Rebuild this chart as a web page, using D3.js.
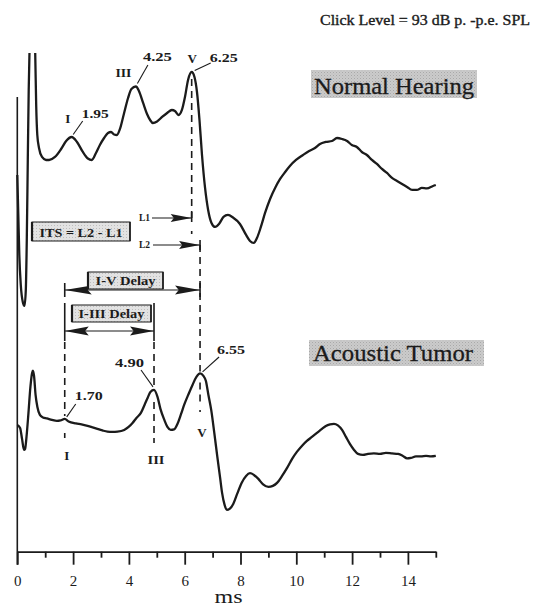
<!DOCTYPE html>
<html><head><meta charset="utf-8">
<script src="https://cdn.jsdelivr.net/npm/d3@7"></script>
<style>
html,body{margin:0;padding:0;background:#fff;}
svg{display:block;}
</style></head><body>
<svg id="chart" width="540" height="606"></svg>
<script>
// ---------------- DATA ----------------
// Normal hearing ABR trace: [latency ms, amplitude (uV, relative to own baseline)]
const normalWave = [
 [0,-0.05],[0.036,-0.25],[0.072,-0.45],[0.125,-0.60],[0.197,-0.685],[0.258,-0.705],[0.305,-0.625],
 [0.34,-0.375],[0.376,0.025],[0.409,0.375],[0.437,0.56],[0.491,0.80],[0.538,0.875],[0.588,0.80],
 [0.642,0.56],[0.677,0.30],[0.717,0.15],[0.778,0.085],[0.885,0.04],[1.03,0.025],[1.14,0.025],
 [1.35,0.04],[1.57,0.08],[1.75,0.12],[1.95,0.14],[2.14,0.115],[2.35,0.065],[2.53,0.0325],[2.67,0.025],
 [2.82,0.06],[2.96,0.10],[3.11,0.135],[3.25,0.16],[3.36,0.165],[3.47,0.1525],[3.57,0.15],[3.68,0.18],
 [3.82,0.255],[3.97,0.335],[4.09,0.38],[4.25,0.3925],[4.36,0.37],[4.51,0.31],[4.65,0.255],[4.76,0.225],
 [4.86,0.21],[5.01,0.2175],[5.19,0.24],[5.37,0.26],[5.54,0.275],[5.65,0.27],[5.78,0.25],[5.90,0.275],
 [6.01,0.34],[6.12,0.425],[6.25,0.465],[6.35,0.44],[6.44,0.365],[6.53,0.225],[6.62,0.05],[6.73,-0.115],
 [6.84,-0.225],[6.96,-0.29],[7.09,-0.31],[7.23,-0.295],[7.39,-0.26],[7.55,-0.25],[7.73,-0.2625],
 [7.98,-0.295],[8.20,-0.35],[8.34,-0.38],[8.47,-0.39],[8.59,-0.365],[8.73,-0.31],[8.88,-0.24],
 [9.06,-0.17],[9.24,-0.115],[9.42,-0.07],[9.60,-0.035],[9.77,-0.005],[9.99,0.025],[10.24,0.05],
 [10.46,0.07],[10.67,0.085],[10.85,0.105],[11.06,0.115],[11.28,0.12],[11.46,0.135],[11.64,0.13],
 [11.82,0.12],[11.99,0.10],[12.17,0.09],[12.35,0.065],[12.53,0.05],[12.71,0.025],[12.89,0.005],
 [13.07,-0.02],[13.25,-0.04],[13.43,-0.065],[13.61,-0.08],[13.79,-0.095],[13.97,-0.11],[14.15,-0.125],
 [14.32,-0.125],[14.50,-0.115],[14.68,-0.1175],[14.90,-0.105],[15.0,-0.10]
];
// Acoustic tumor ABR trace
const tumorWave = [
 [0,0],[0.10,-0.015],[0.17,-0.07],[0.24,-0.125],[0.28,-0.12],[0.33,-0.06],[0.40,0.06],[0.47,0.19],
 [0.53,0.26],[0.56,0.272],[0.60,0.245],[0.655,0.15],[0.72,0.09],[0.81,0.05],[0.92,0.0375],[1.06,0.0325],
 [1.24,0.025],[1.42,0.02],[1.55,0.0225],[1.70,0.03],[1.84,0.0175],[2.10,0.0075],[2.30,0.0025],
 [2.52,-0.005],[2.70,-0.0125],[2.87,-0.02],[3.05,-0.0275],[3.23,-0.0335],[3.41,-0.035],[3.59,-0.0335],
 [3.83,-0.025],[3.99,-0.01],[4.13,0.01],[4.27,0.035],[4.43,0.06],[4.56,0.10],[4.67,0.135],[4.77,0.165],
 [4.90,0.175],[5.025,0.14],[5.13,0.08],[5.27,0.025],[5.38,-0.01],[5.50,-0.025],[5.62,-0.0225],
 [5.74,0.005],[5.87,0.055],[5.98,0.10],[6.14,0.155],[6.28,0.20],[6.42,0.24],[6.55,0.2575],[6.67,0.245],
 [6.76,0.22],[6.85,0.15],[6.95,0.075],[7.07,-0.05],[7.17,-0.16],[7.27,-0.265],[7.34,-0.34],[7.43,-0.40],
 [7.51,-0.425],[7.61,-0.42],[7.74,-0.395],[7.88,-0.345],[8.04,-0.29],[8.20,-0.255],[8.34,-0.2415],
 [8.48,-0.25],[8.64,-0.27],[8.81,-0.2975],[9.00,-0.31],[9.16,-0.305],[9.31,-0.29],[9.49,-0.255],
 [9.67,-0.215],[9.85,-0.17],[10.02,-0.135],[10.20,-0.105],[10.38,-0.08],[10.56,-0.06],[10.74,-0.04],
 [10.92,-0.02],[11.06,-0.005],[11.21,0.0025],[11.35,0.005],[11.49,-0.0025],[11.64,-0.025],[11.78,-0.06],
 [11.92,-0.095],[12.07,-0.125],[12.21,-0.145],[12.39,-0.15],[12.57,-0.145],[12.78,-0.1425],[13.00,-0.145],
 [13.21,-0.14],[13.43,-0.1425],[13.65,-0.145],[13.82,-0.155],[13.97,-0.1675],[14.11,-0.165],
 [14.29,-0.1575],[14.47,-0.1575],[14.65,-0.155],[14.83,-0.1575],[15.0,-0.155]
];
const normalOffset = 0;      // uV, vertical display offset of the normal trace
const tumorOffset = -1.3;    // uV, vertical display offset of the tumor trace
const waveNames = ["I", "III", "V"];
const normalLatencies = [1.95, 4.25, 6.25];
const tumorLatencies = [1.70, 4.90, 6.55];
const xMajorTicks = [0, 2, 4, 6, 8, 10, 12, 14];
const xMinorTicks = [1, 3, 5, 7, 9, 11, 13, 15];
const xLabel = "ms";
const titleText = "Click Level = 93 dB p. -p.e. SPL";
const normalName = "Normal Hearing";
const tumorName = "Acoustic Tumor";
const itsText = "ITS = L2 - L1";
const ivText = "I-V Delay";
const iiiText = "I-III Delay";

// ---------------- CHART ----------------
const svg = d3.select("#chart");
const INK = "#1b1b1b";
const SERIF = "'Liberation Serif','Times New Roman',serif";
const x = d3.scaleLinear().domain([0, 15]).range([17.3, 435.8]);
const y = d3.scaleLinear().domain([-1.934, 0.56]).range([551.7, 53]);
const axisY = y.range()[0];

const defs = svg.append("defs");
defs.append("clipPath").attr("id", "plotClip").append("rect")
  .attr("x", 0).attr("y", y.range()[1]).attr("width", 540).attr("height", axisY - y.range()[1] + 20);
const pat = defs.append("pattern").attr("id", "stip").attr("patternUnits", "userSpaceOnUse")
  .attr("width", 3).attr("height", 3);
pat.append("rect").attr("width", 3).attr("height", 3).attr("fill", "#cbcbcb");
pat.append("rect").attr("x", 0).attr("y", 0).attr("width", 1).attr("height", 1).attr("fill", "#a9a9a9");
pat.append("rect").attr("x", 1.5).attr("y", 1.5).attr("width", 1).attr("height", 1).attr("fill", "#b8b8b8");
const pat2 = defs.append("pattern").attr("id", "stip2").attr("patternUnits", "userSpaceOnUse")
  .attr("width", 3).attr("height", 3);
pat2.append("rect").attr("width", 3).attr("height", 3).attr("fill", "#e2e2e2");
pat2.append("rect").attr("x", 0).attr("y", 0).attr("width", 1).attr("height", 1).attr("fill", "#bdbdbd");

function txt(xp, yp, s, size, opts = {}) {
  const t = svg.append("text").attr("x", xp).attr("y", yp).text(s)
    .attr("font-family", SERIF).attr("font-size", size).attr("fill", INK)
    .attr("font-weight", opts.weight || "bold")
    .attr("text-anchor", opts.anchor || "start");
  if (opts.len) t.attr("textLength", opts.len).attr("lengthAdjust", "spacingAndGlyphs");
  return t;
}
function seg(x1, y1, x2, y2, w = 1, dash = null) {
  const l = svg.append("line").attr("x1", x1).attr("y1", y1).attr("x2", x2).attr("y2", y2)
    .attr("stroke", INK).attr("stroke-width", w);
  if (dash) l.attr("stroke-dasharray", dash);
  return l;
}
function arrowHead(xe, ye, dir, len = 22, hw = 4) {
  svg.append("path")
    .attr("d", `M${xe},${ye} L${xe - dir * len},${ye - hw} L${xe - dir * len * 0.85},${ye} L${xe - dir * len},${ye + hw} Z`)
    .attr("fill", INK);
}

// ---- x axis (minor + major ticks) ----
const gMinor = svg.append("g").attr("transform", `translate(0,${axisY})`)
  .call(d3.axisBottom(x).tickValues(xMinorTicks).tickSize(6).tickFormat("").tickSizeOuter(0));
const gMajor = svg.append("g").attr("transform", `translate(0,${axisY})`)
  .call(d3.axisBottom(x).tickValues(xMajorTicks).tickSize(13).tickPadding(11).tickSizeOuter(0));
[gMinor, gMajor].forEach(g => {
  g.select(".domain").attr("stroke", INK).attr("stroke-width", 1.6);
  g.selectAll(".tick line").attr("stroke", INK).attr("stroke-width", 1.8);
});
gMajor.selectAll(".tick text").attr("font-family", SERIF).attr("font-size", 15).attr("fill", INK);
txt((x(0) + x(15)) / 2 + 2, 603, xLabel, 19, { weight: "normal", anchor: "middle", len: 28 });

// ---- y axis line ----
seg(x(0), 97, x(0), axisY + 13, 1.6);

// ---- traces ----
const line = off => d3.line().x(d => x(d[0])).y(d => y(d[1] + off)).curve(d3.curveMonotoneX);
svg.append("path").datum(normalWave).attr("d", line(normalOffset))
  .attr("fill", "none").attr("stroke", INK).attr("stroke-width", 2.3)
  .attr("stroke-linejoin", "round").attr("clip-path", "url(#plotClip)");
svg.append("path").datum(tumorWave).attr("d", line(tumorOffset))
  .attr("fill", "none").attr("stroke", INK).attr("stroke-width", 2.3).attr("stroke-linejoin", "round");

const ampAt = (wave, ms) => wave.find(d => Math.abs(d[0] - ms) < 1e-9)[1];
const nP = normalLatencies.map((ms, i) => ({ name: waveNames[i], ms, px: x(ms), py: y(ampAt(normalWave, ms) + normalOffset) }));
const tP = tumorLatencies.map((ms, i) => ({ name: waveNames[i], ms, px: x(ms), py: y(ampAt(tumorWave, ms) + tumorOffset) }));

// ---- normal peak labels ----
const LAB = 13;
txt(nP[0].px - 4, 123, nP[0].name, LAB, { anchor: "middle" });
txt(nP[0].px + 10, 118, nP[0].ms.toFixed(2), LAB, { len: 27 });
seg(nP[0].px + 11, 121, nP[0].px + 1.5, nP[0].py - 2.5, 1.1);
txt(nP[1].px - 12.5, 77, nP[1].name, LAB, { anchor: "middle", len: 16 });
txt(nP[1].px + 7, 61, nP[1].ms.toFixed(2), LAB, { len: 29 });
seg(nP[1].px + 12, 65, nP[1].px + 1.5, nP[1].py - 3, 1.1);
txt(nP[2].px + 0.5, 63, nP[2].name, LAB, { anchor: "middle" });
txt(nP[2].px + 18, 62, nP[2].ms.toFixed(2), LAB, { len: 28 });
seg(nP[2].px + 19, 63, nP[2].px + 3, nP[2].py - 1.5, 1.1);

// ---- tumor peak labels ----
txt(tP[0].px + 10, 400, tP[0].ms.toFixed(2), LAB, { len: 28 });
seg(tP[0].px + 11, 404, tP[0].px + 2, tP[0].py - 2, 1.1);
txt(tP[1].px - 10, 367, tP[1].ms.toFixed(2), LAB, { anchor: "end", len: 29 });
seg(tP[1].px - 13, 370, tP[1].px - 1, tP[1].py - 3, 1.1);
txt(tP[2].px + 17, 354, tP[2].ms.toFixed(2), LAB, { len: 28 });
seg(tP[2].px + 19, 357, tP[2].px + 2.5, tP[2].py - 1.5, 1.1);
txt(tP[0].px + 2, 460, tP[0].name, LAB, { anchor: "middle" });
txt(tP[1].px + 2, 464, tP[1].name, LAB, { anchor: "middle", len: 17 });
txt(tP[2].px + 2, 437, tP[2].name, LAB, { anchor: "middle" });

// ---- dashed latency lines ----
const DASH = "7,5";
const yL1 = 218, yL2 = 245, yIV = 290, yIII = 331;
seg(nP[2].px, nP[2].py + 7, nP[2].px, yL1, 1.6, DASH);
seg(nP[2].px, 231, nP[2].px, 234, 1.6);
seg(tP[2].px, yL2, tP[2].px, tP[2].py - 2, 1.6, DASH);
seg(tP[2].px, tP[2].py + 9, tP[2].px, 404, 1.6, DASH);
seg(tP[2].px, 410, tP[2].px, 412, 1.6);
seg(tP[0].px, 342, tP[0].px, tP[0].py - 3, 1.6, DASH);
seg(tP[0].px, 433, tP[0].px, 438, 1.6);
seg(tP[1].px, 342, tP[1].px, tP[1].py - 4, 1.6, DASH);
seg(tP[1].px, tP[1].py + 12, tP[1].px, 443, 1.6, DASH);

// ---- L1 / L2 arrows ----
seg(152, yL1, nP[2].px, yL1, 1.2);
arrowHead(nP[2].px, yL1, 1, 21, 4);
seg(nP[2].px, yL1 - 6, nP[2].px, yL1 + 4, 1.6);
txt(150, yL1 + 3, "L1", 9.5, { anchor: "end" });
seg(153, yL2, tP[2].px, yL2, 1.2);
arrowHead(tP[2].px, yL2, 1, 21, 4);
seg(tP[2].px, yL2 - 5, tP[2].px, yL2 + 5, 1.6);
txt(150, yL2 + 3, "L2", 9.5, { anchor: "end" });

// ---- label boxes ----
function labelBox(x0, y0, w, h, s, tl, size) {
  svg.append("rect").attr("x", x0).attr("y", y0).attr("width", w).attr("height", h)
    .attr("fill", "url(#stip2)").attr("stroke", INK).attr("stroke-width", 1);
  seg(x0, y0, x0, y0 + h, 2.2);
  seg(x0 + w, y0, x0 + w, y0 + h, 1.6);
  txt(x0 + w / 2, y0 + h - 4, s, size, { anchor: "middle", len: tl });
}
labelBox(32, 222, 98, 19, itsText, 83, 12);

// ---- I-V delay ----
seg(tP[0].px, yIV, tP[2].px, yIV, 1.2);
arrowHead(tP[0].px, yIV, -1, 27, 4.5);
arrowHead(tP[2].px, yIV, 1, 25, 4.5);
seg(tP[0].px, yIV - 7, tP[0].px, yIV + 7, 1.6);
seg(tP[2].px, yIV - 7, tP[2].px, yIV + 7, 1.6);
labelBox(88, 272, 75, 17, ivText, 60, 11.5);

// ---- I-III delay ----
seg(tP[0].px, yIII, tP[1].px, yIII, 1.2);
arrowHead(tP[0].px, yIII, -1, 24, 4.5);
arrowHead(tP[1].px, yIII, 1, 24, 4.5);
seg(tP[0].px, 303, tP[0].px, 341, 1.6);
seg(tP[1].px, 303, tP[1].px, 341, 1.6);
labelBox(72, 305, 79, 17, iiiText, 66, 11.5);

// ---- title & group names ----
txt(320, 25, titleText, 14, { weight: "normal", len: 210 }).attr("stroke", INK).attr("stroke-width", 0.35);
svg.append("rect").attr("x", 311).attr("y", 70).attr("width", 166).attr("height", 28).attr("fill", "url(#stip)");
txt(314, 94, normalName, 23, { weight: "normal", len: 160 }).attr("stroke", INK).attr("stroke-width", 0.3);
svg.append("rect").attr("x", 309).attr("y", 340).attr("width", 175).attr("height", 26).attr("fill", "url(#stip)");
txt(313, 361, tumorName, 23, { weight: "normal", len: 160 }).attr("stroke", INK).attr("stroke-width", 0.3);
</script>
</body></html>
